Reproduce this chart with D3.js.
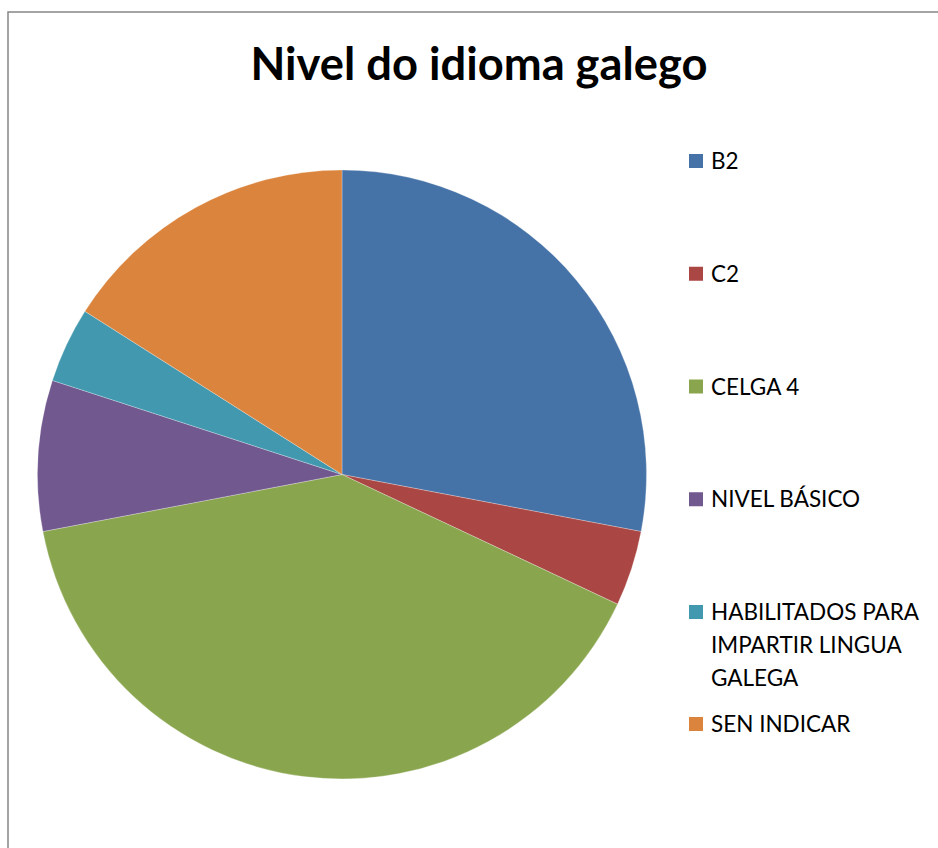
<!DOCTYPE html>
<html><head><meta charset="utf-8">
<script src="https://cdn.jsdelivr.net/npm/d3@7"></script>
<style>body{margin:0;background:#fff;} svg{display:block;}</style>
</head><body>
<svg id="chart" width="938" height="848"></svg>
<script>
const title = "Nivel do idioma galego";
const categories = ["B2", "C2", "CELGA 4", "NIVEL BÁSICO", "HABILITADOS PARA IMPARTIR LINGUA GALEGA", "SEN INDICAR"];
const legendLines = [["B2"], ["C2"], ["CELGA 4"], ["NIVEL BÁSICO"], ["HABILITADOS PARA", "IMPARTIR LINGUA", "GALEGA"], ["SEN INDICAR"]];
const values = [7, 1, 10, 2, 1, 4];
const colors = ["#4572A7", "#AA4643", "#89A54E", "#71588F", "#4198AF", "#DB843D"];

const svg = d3.select("#chart");
const font = "Lato, 'Open Sans', sans-serif";

svg.append("rect").attr("x", 8).attr("y", 12).attr("width", 940).attr("height", 850)
  .attr("fill", "#fff").attr("stroke", "#868686").attr("stroke-width", 1.5);

svg.append("text").attr("x", 479).attr("y", 80).attr("text-anchor", "middle")
  .attr("font-family", font).attr("font-weight", 700).attr("font-size", 45.3)
  .attr("fill", "#000").text(title);

const cx = 342, cy = 474.5, r = 304.5;
const pie = d3.pie().sort(null).value(d => d);
const arc = d3.arc().innerRadius(0).outerRadius(r);
const g = svg.append("g").attr("transform", `translate(${cx},${cy})`);
g.selectAll("path").data(pie(values)).join("path")
  .attr("d", arc).attr("fill", (d, i) => colors[i])
  .attr("stroke", "#fff").attr("stroke-opacity", 0.35).attr("stroke-width", 0.8);

const legendY = d3.scalePoint().domain(d3.range(5)).range([161, 612]);
const leg = svg.append("g");
legendLines.forEach((lines, i) => {
  const y = i < 5 ? legendY(i) : 724;
  leg.append("rect").attr("x", 689).attr("y", y - 7).attr("width", 14).attr("height", 14).attr("fill", colors[i]);
  const t = leg.append("text").attr("font-family", font).attr("font-size", 22.5).attr("fill", "#000");
  lines.forEach((l, j) => {
    t.append("tspan").attr("x", 711).attr("y", y + 8 + j * 33).text(l);
  });
});
</script>
</body></html>
